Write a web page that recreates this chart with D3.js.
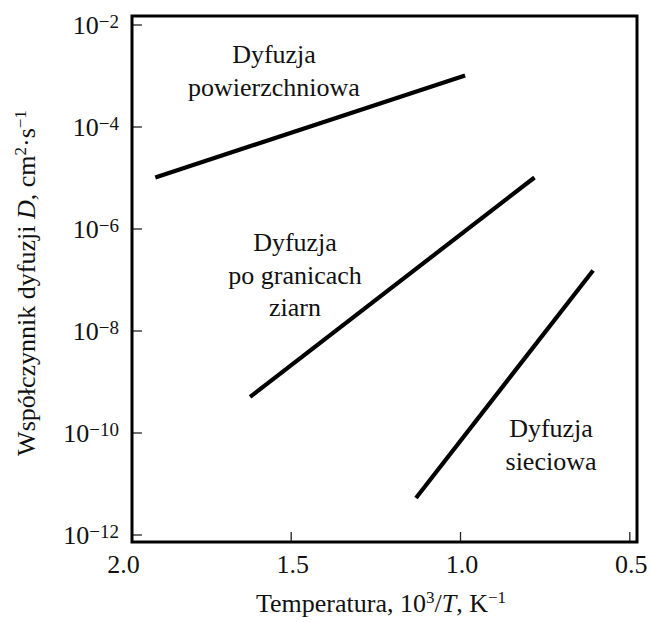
<!DOCTYPE html>
<html>
<head>
<meta charset="utf-8">
<script src="https://cdn.jsdelivr.net/npm/d3@7"></script>
<style>
  html, body { margin: 0; padding: 0; background: #fff; }
  svg { display: block; }
</style>
</head>
<body>
<script>
// Diffusion coefficient vs reciprocal temperature (Arrhenius plot)
const seriesNames = ["Dyfuzja powierzchniowa", "Dyfuzja po granicach ziarn", "Dyfuzja sieciowa"];
const invT_surface  = [1.90, 0.985];
const D_surface     = [1.0e-5, 1.0e-3];
const invT_boundary = [1.62, 0.78];
const D_boundary    = [5.0e-10, 1.0e-5];
const invT_lattice  = [1.13, 0.607];
const D_lattice     = [5.2e-12, 1.5e-7];

const xTicks = [2.0, 1.5, 1.0, 0.5];
const xTickLabels = ["2.0", "1.5", "1.0", "0.5"];
const yTicks = [1e-2, 1e-4, 1e-6, 1e-8, 1e-10, 1e-12];
const yTickExponents = ["−2", "−4", "−6", "−8", "−10", "−12"];

const FONT = "Liberation Serif";
const W = 649, H = 622;
const frame = { left: 132, top: 16, right: 637, bottom: 542 };

const svg = d3.select("body").append("svg")
  .attr("width", W).attr("height", H)
  .attr("font-family", FONT);

const x = d3.scaleLinear().domain([2.0, 0.5]).range([121.4, 629.3]);
const y = d3.scaleLog().domain([1e-12, 1e-2]).range([534.5, 24.5]);

// inner tick marks (only those inside the frame)
const innerX = xTicks.filter(v => x(v) > frame.left + 2 && x(v) < frame.right - 2);
const innerY = yTicks.filter(v => y(v) > frame.top + 2 && y(v) < frame.bottom - 2);

const xAxis = svg.append("g")
  .attr("transform", `translate(0,${frame.bottom})`)
  .call(d3.axisBottom(x).tickValues(innerX).tickSize(-10).tickFormat(""));
const yAxis = svg.append("g")
  .attr("transform", `translate(${frame.left},0)`)
  .call(d3.axisLeft(y).tickValues(innerY).tickSize(-10).tickFormat(""));
[xAxis, yAxis].forEach(g => {
  g.select(".domain").remove();
  g.selectAll(".tick line").attr("stroke", "#222").attr("stroke-width", 1.3);
});

// frame
svg.append("rect")
  .attr("x", frame.left).attr("y", frame.top)
  .attr("width", frame.right - frame.left).attr("height", frame.bottom - frame.top)
  .attr("fill", "none").attr("stroke", "#000").attr("stroke-width", 3);

const txt = (sel) => sel.attr("font-family", FONT).attr("fill", "#111");

// x tick labels
svg.append("g").selectAll("text")
  .data(xTicks)
  .join("text")
  .call(txt)
  .attr("x", d => x(d) + 2)
  .attr("y", 573)
  .attr("text-anchor", "middle")
  .attr("font-size", 26)
  .text((d, i) => xTickLabels[i]);

// y tick labels: 10 with superscript exponent
const yl = svg.append("g").selectAll("text")
  .data(yTicks)
  .join("text")
  .call(txt)
  .attr("x", 119)
  .attr("y", d => y(d) + 9)
  .attr("text-anchor", "end")
  .attr("font-size", 26);
yl.append("tspan").text("10");
yl.append("tspan")
  .attr("font-size", 19)
  .attr("dy", -6)
  .text((d, i) => yTickExponents[i]);

// series lines
const series = [
  { xs: invT_surface,  ys: D_surface },
  { xs: invT_boundary, ys: D_boundary },
  { xs: invT_lattice,  ys: D_lattice }
];
const line = d3.line().x(d => x(d[0])).y(d => y(d[1]));
svg.append("g").selectAll("path")
  .data(series)
  .join("path")
  .attr("d", s => line(s.xs.map((v, i) => [v, s.ys[i]])))
  .attr("fill", "none")
  .attr("stroke", "#000")
  .attr("stroke-width", 4.2)
  .attr("stroke-linecap", "butt");

// series labels
const labelLayout = [
  { cx: 274, y0: 63,  lines: ["Dyfuzja", "powierzchniowa"] },
  { cx: 295, y0: 251, lines: ["Dyfuzja", "po granicach", "ziarn"] },
  { cx: 551, y0: 437, lines: ["Dyfuzja", "sieciowa"] }
];
labelLayout.forEach((lab, k) => {
  const t = svg.append("text")
    .call(txt)
    .attr("text-anchor", "middle")
    .attr("font-size", 26)
    .attr("aria-label", seriesNames[k]);
  lab.lines.forEach((s, i) => {
    t.append("tspan").attr("x", lab.cx).attr("y", lab.y0 + i * 32.5).text(s);
  });
});

// x axis title
const xt = svg.append("text")
  .call(txt)
  .attr("x", 381).attr("y", 612)
  .attr("text-anchor", "middle")
  .attr("font-size", 26);
xt.append("tspan").text("Temperatura, 10");
xt.append("tspan").attr("font-size", 17).attr("dy", -9).text("3");
xt.append("tspan").attr("dy", 9).text("/");
xt.append("tspan").attr("font-style", "italic").text("T");
xt.append("tspan").text(", K");
xt.append("tspan").attr("font-size", 17).attr("dy", -9).text("−1");

// y axis title
const yt = svg.append("text")
  .call(txt)
  .attr("transform", "translate(35,283) rotate(-90)")
  .attr("text-anchor", "middle")
  .attr("font-size", 26);
yt.append("tspan").text("Współczynnik dyfuzji ");
yt.append("tspan").attr("font-style", "italic").text("D");
yt.append("tspan").text(", cm");
yt.append("tspan").attr("font-size", 17).attr("dy", -9).text("2");
yt.append("tspan").attr("dy", 9).text("·s");
yt.append("tspan").attr("font-size", 17).attr("dy", -9).text("−1");
</script>
</body>
</html>
